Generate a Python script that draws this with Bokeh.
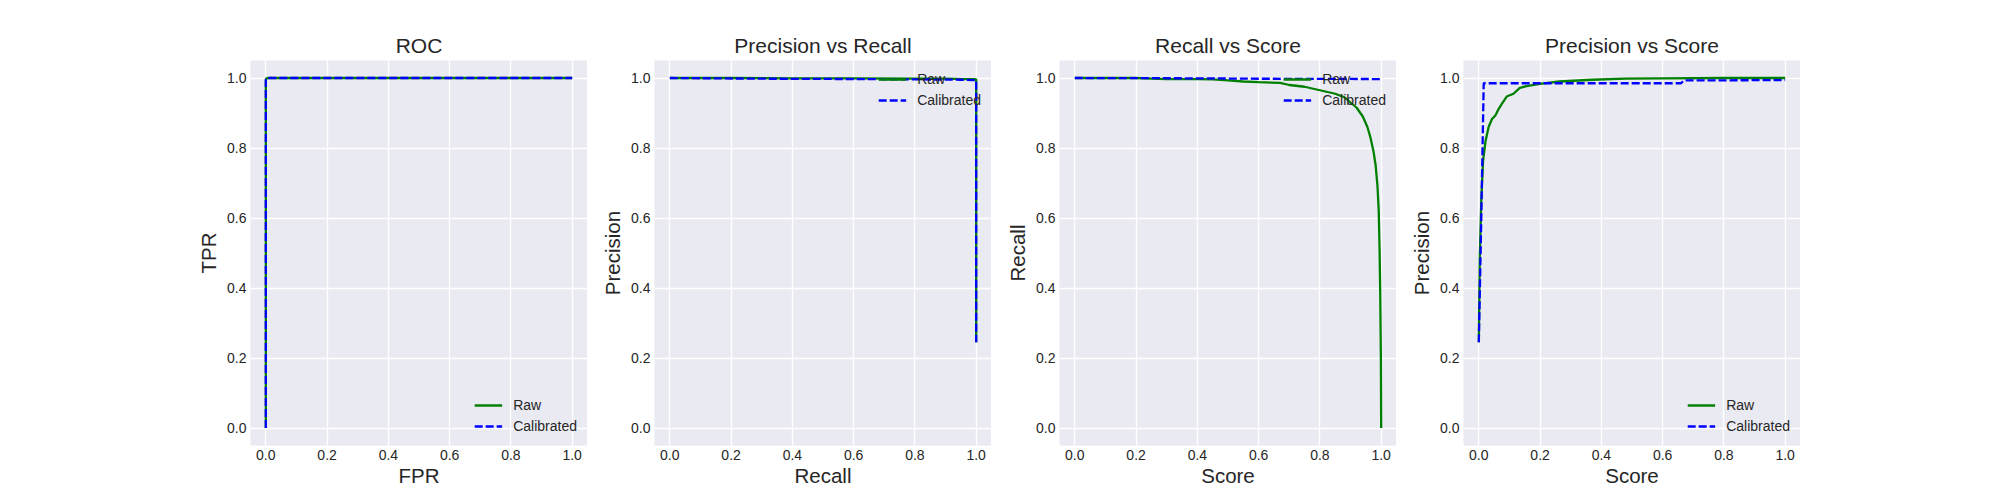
from bokeh.plotting import figure
from bokeh.layouts import row
from bokeh.models import FixedTicker, PrintfTickFormatter, Legend, LegendItem
from bokeh.embed import file_html
from bokeh.resources import INLINE

# ROC curve
roc_fpr_raw = [0.0, 0.0, 0.001, 0.01, 1.0]
roc_tpr_raw = [0.0, 0.99, 0.999, 1.0, 1.0]
roc_fpr_cal = [0.0, 0.0, 0.002, 1.0]
roc_tpr_cal = [0.0, 0.995, 1.0, 1.0]

# precision vs recall
pr_recall_raw = [0.0, 0.2, 0.4, 0.6, 0.8, 0.9, 0.95, 0.98, 0.995, 1.0, 1.0]
pr_prec_raw = [1.0, 1.0, 0.999, 0.999, 0.998, 0.998, 0.997, 0.997, 0.997, 0.996, 0.245]
pr_recall_cal = [0.0, 0.3, 0.6, 0.8, 0.95, 0.99, 1.0, 1.0]
pr_prec_cal = [1.0, 0.998, 0.997, 0.996, 0.995, 0.994, 0.994, 0.245]

# recall vs score
rs_score_raw = [0.0, 0.1, 0.2, 0.25, 0.3, 0.4, 0.45, 0.5, 0.55, 0.6, 0.67, 0.7, 0.75,
                0.8, 0.85, 0.88, 0.9, 0.92, 0.94, 0.955, 0.965, 0.975, 0.982, 0.988,
                0.992, 0.995, 0.997, 0.999, 1.0]
rs_recall_raw = [1.0, 1.0, 1.0, 0.998, 0.997, 0.997, 0.996, 0.993, 0.99, 0.988, 0.986,
                 0.98, 0.975, 0.965, 0.955, 0.945, 0.93, 0.915, 0.89, 0.86, 0.83, 0.79,
                 0.75, 0.69, 0.62, 0.5, 0.38, 0.2, 0.0]
rs_score_cal = [0.0, 0.45, 0.55, 1.0]
rs_recall_cal = [1.0, 0.999, 0.998, 0.997]

# precision vs score
ps_score_raw = [0.0, 0.003, 0.008, 0.014, 0.022, 0.032, 0.043, 0.054, 0.065, 0.075,
                0.091, 0.113, 0.134, 0.156, 0.199, 0.263, 0.371, 0.478, 0.6, 0.8, 1.0]
ps_prec_raw = [0.245, 0.48, 0.65, 0.765, 0.82, 0.86, 0.883, 0.893, 0.912, 0.926,
               0.947, 0.955, 0.972, 0.977, 0.983, 0.99, 0.995, 0.998, 0.999, 1.0, 1.0]
ps_score_cal = [0.0, 0.008, 0.016, 0.66, 0.67, 1.0]
ps_prec_cal = [0.245, 0.6, 0.985, 0.985, 0.993, 0.994]

FONT = "Liberation Sans"
TEXT = "#262626"
ticks = [0.0, 0.2, 0.4, 0.6, 0.8, 1.0]


def make_panel(title, xlabel, ylabel, xr, yr, xc, yc, legend_loc, left_border):
    p = figure(title=title, frame_width=337, frame_height=385,
               x_range=(-0.05, 1.05), y_range=(-0.05, 1.05),
               min_border_left=left_border, min_border_right=0,
               min_border_top=60, min_border_bottom=40,
               output_backend="svg", toolbar_location=None)
    p.background_fill_color = "#EAEAF2"
    p.border_fill_color = "white"
    p.outline_line_color = None

    p.title.align = "center"
    p.title.text_font = FONT
    p.title.text_font_size = "21px"
    p.title.text_font_style = "normal"
    p.title.text_color = TEXT
    p.title.standoff = 8

    for ax in (p.xaxis[0], p.yaxis[0]):
        ax.ticker = FixedTicker(ticks=ticks)
        ax.formatter = PrintfTickFormatter(format="%.1f")
        ax.axis_line_color = None
        ax.major_tick_line_color = None
        ax.minor_tick_line_color = None
        ax.major_tick_out = 0
        ax.major_tick_in = 0
        ax.minor_tick_out = 0
        ax.minor_tick_in = 0
        ax.major_label_text_font = FONT
        ax.major_label_text_font_size = "14px"
        ax.major_label_text_color = TEXT
        ax.axis_label_text_font = FONT
        ax.axis_label_text_font_size = "20.5px"
        ax.axis_label_text_font_style = "normal"
        ax.axis_label_text_color = TEXT
    p.xaxis.axis_label = xlabel
    p.yaxis.axis_label = ylabel
    p.xaxis.major_label_standoff = 4
    p.yaxis.major_label_standoff = 4
    p.xaxis.axis_label_standoff = 1
    p.yaxis.axis_label_standoff = 4

    p.grid.grid_line_color = "white"
    p.grid.grid_line_width = 1.3
    p.grid.ticker = FixedTicker(ticks=ticks)

    r1 = p.line(xr, yr, line_color="green", line_width=2.3)
    r2 = p.line(xc, yc, line_color="blue", line_width=2.3, line_dash="8 3")

    leg = Legend(items=[LegendItem(label="Raw", renderers=[r1]),
                        LegendItem(label="Calibrated", renderers=[r2])],
                 location=legend_loc)
    leg.background_fill_alpha = 0
    leg.border_line_color = None
    leg.label_text_font = FONT
    leg.label_text_font_size = "14px"
    leg.label_text_color = TEXT
    leg.glyph_width = 28
    leg.glyph_height = 18
    leg.label_height = 18
    leg.spacing = 3
    leg.label_standoff = 11
    leg.margin = 10
    leg.padding = 8
    p.add_layout(leg)
    return p


p1 = make_panel("ROC", "FPR", "TPR", roc_fpr_raw, roc_tpr_raw,
                roc_fpr_cal, roc_tpr_cal, "bottom_right", 250)
p2 = make_panel("Precision vs Recall", "Recall", "Precision", pr_recall_raw, pr_prec_raw,
                pr_recall_cal, pr_prec_cal, "top_right", 67)
p3 = make_panel("Recall vs Score", "Score", "Recall", rs_score_raw, rs_recall_raw,
                rs_score_cal, rs_recall_cal, "top_right", 68)
p4 = make_panel("Precision vs Score", "Score", "Precision", ps_score_raw, ps_prec_raw,
                ps_score_cal, ps_prec_cal, "bottom_right", 67)

p = row(p1, p2, p3, p4)

open("out.html", "w").write(file_html(p, INLINE))
